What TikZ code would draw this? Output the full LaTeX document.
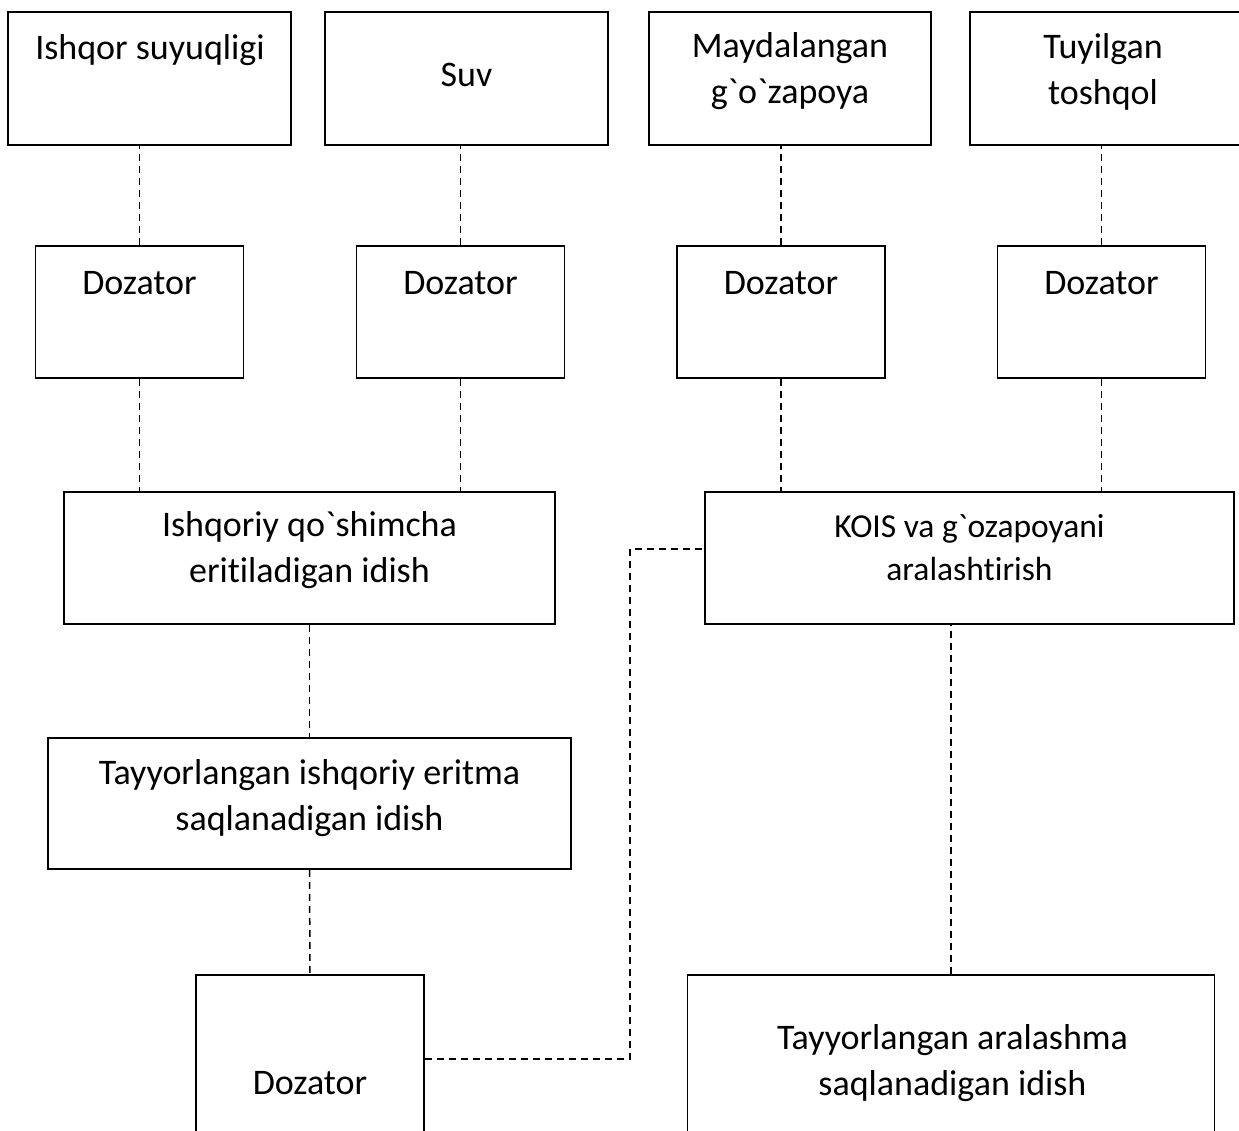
\documentclass[tikz,border=0pt]{standalone}
\usepackage{fontspec}
\setmainfont{Carlito}[Ligatures={TeXOff,NoCommon}]
\usetikzlibrary{calc}
\usetikzlibrary{positioning}

\begin{document}
\begin{tikzpicture}
  [
    x=1pt, y=-1pt,
    box/.style   = {draw, rectangle, line width=1.8pt, inner sep=0pt},
    txt/.style   = {align=center, inner sep=0pt, font=\fontsize{36}{46}\selectfont},
    smalltxt/.style = {align=center, inner sep=0pt, font=\fontsize{33.5}{43}\selectfont},
    flow/.style  = {line width=1.5pt, dash pattern=on 7pt off 5pt},
  ]

  \useasboundingbox (0,0) rectangle (1239,1130);
  \clip (0,0) rectangle (1239,1130);

  % sources
  \node (src1) at (149.5,78.5) [box, minimum width=283, minimum height=133] {};
  \node (src2) at (466.5,78.5) [box, minimum width=283, minimum height=133] {};
  \node (src3) at (790,78.5)   [box, minimum width=282, minimum height=133] {};
  \node (src4) at (1111.5,78.5) [box, minimum width=283, minimum height=133] {};

  \node (src1t) at (150,50) [txt] {Ishqor suyuqligi};
  \node (src2t) at (466.5,75) [txt] {Suv};
  \node (src3t) at (790,71.5) [txt] {Maydalangan\\g`o`zapoya};
  \node (src4t) at (1103,71.5) [txt] {Tuyilgan\\toshqol};

  % dozators
  \foreach \i/\cx in {1/139.5, 2/460.5, 3/781, 4/1101.5}
    {
      \node (doz\i) at (\cx,312) [box, minimum width=208, minimum height=132] {};
      \node (doz\i t) at (\cx,283) [txt] {Dozator};
    }

  % mixing
  \node (mix1) at (309.5,558) [box, minimum width=491, minimum height=132] {};
  \node (mix1t) at (309.5,550) [txt] {Ishqoriy qo`shimcha\\eritiladigan idish};
  \node (mix2) at (969.5,558) [box, minimum width=529, minimum height=132] {};
  \node (mix2t) at (969.5,548) [smalltxt] {KOIS va g`ozapoyani\\aralashtirish};

  % storage
  \node (store1) at (309.5,803.5) [box, minimum width=523, minimum height=131] {};
  \node (store1t) at (309.5,798) [txt] {Tayyorlangan ishqoriy eritma\\saqlanadigan idish};

  \node (doz5) at (310,1059) [box, minimum width=228, minimum height=168] {};
  \node (doz5t) at (310,1083) [txt] {Dozator};
  \node (store2) at (951,1090) [box, minimum width=527, minimum height=230] {};
  \node (store2t) at (952.5,1063) [txt] {Tayyorlangan aralashma\\saqlanadigan idish};

  % connectors
  \foreach \i/\s/\m in {1/src1/mix1, 2/src2/mix1, 3/src3/mix2, 4/src4/mix2}
    {
      \draw[flow] (doz\i.north) -- (doz\i.north |- \s.south);
      \draw[flow] (doz\i.south) -- (doz\i.south |- \m.north);
    }

  \draw[flow] (mix1.south) -- (store1.north);
  \draw[flow] (store1.south) -- (doz5.north);
  \draw[flow] (store2.north) -- (store2.north |- mix2.south);

  \coordinate (kin) at ([yshift=9pt]mix2.west);
  \coordinate (feedturn) at (630,549);
  \draw[flow] (doz5.east) -| (feedturn) -- (kin);

\end{tikzpicture}
\end{document}
